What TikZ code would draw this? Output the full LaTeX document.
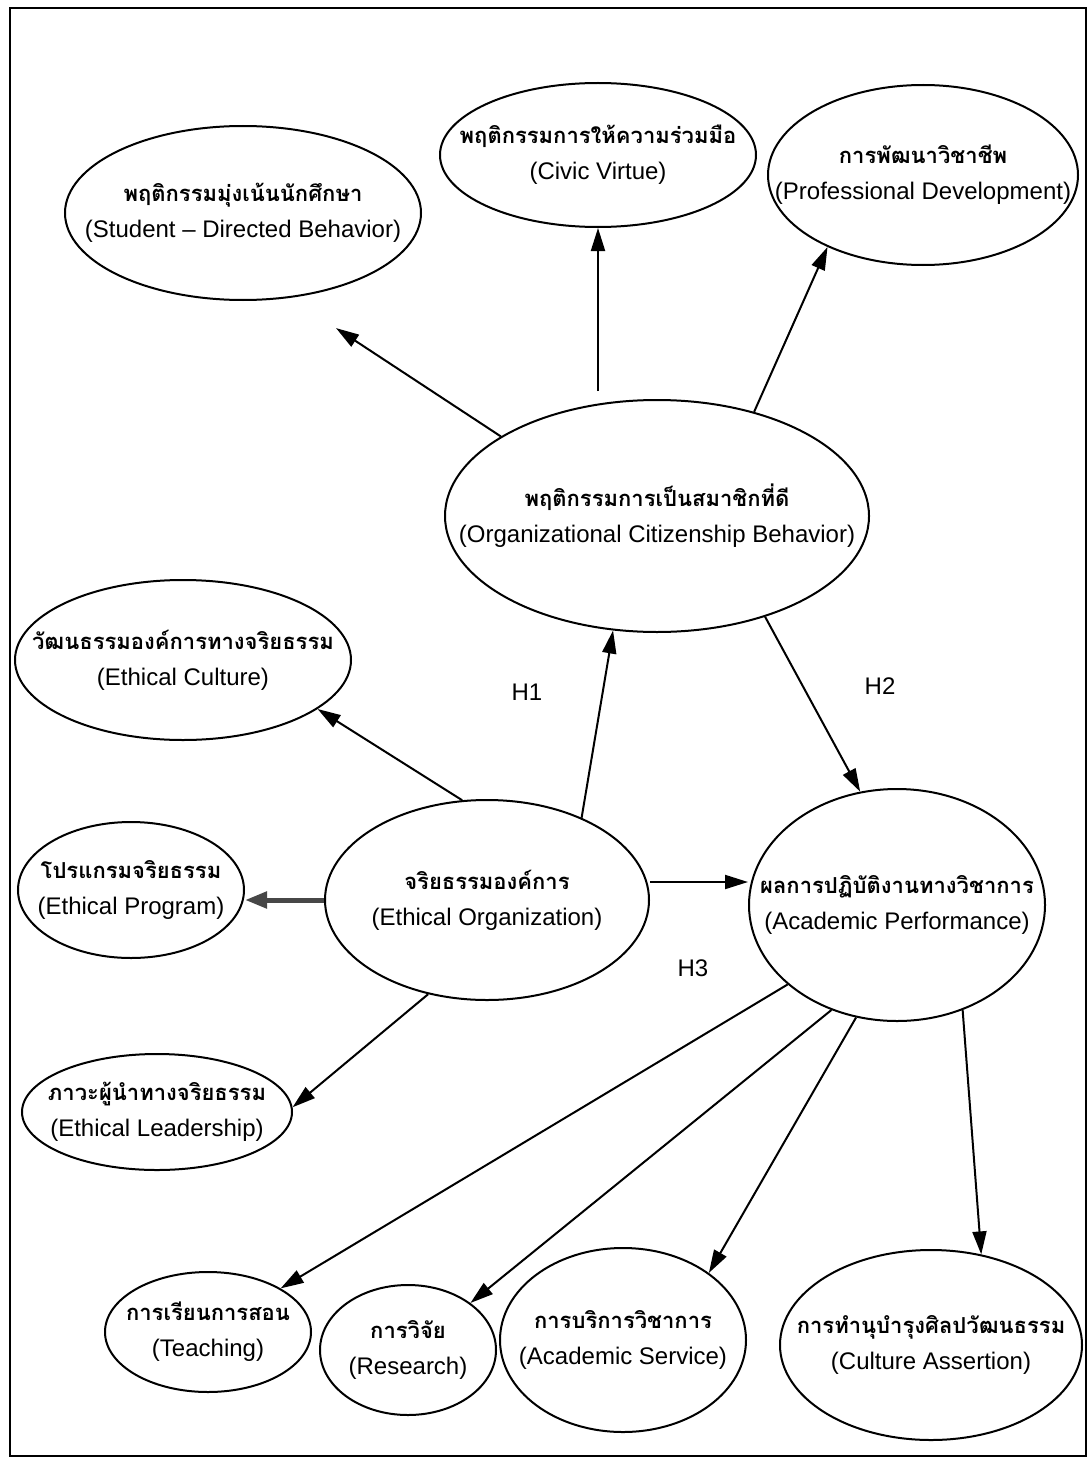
\documentclass[tikz,border=0pt]{standalone}
\usepackage{fontspec}
\setmainfont{Liberation Sans}
\newfontfamily\thaifont[Script=Thai]{Loma}
\usetikzlibrary{shapes.geometric,arrows.meta}

\tikzset{
  concept/.style n args={3}{ellipse, draw, line width=2pt, inner sep=0pt,
    minimum width=#1pt, minimum height=#2pt,
    label={[align=center, inner sep=0pt, font=\fontsize{24}{36}\selectfont]center:#3}},
  arr/.style={line width=2pt, -{Triangle[length=23pt,width=14pt]}},
  heavyarr/.style={line width=5pt, draw=black!72, -{Triangle[length=22pt,width=16pt]}},
  hyp/.style={font=\fontsize{24}{28}\selectfont}
}
\newcommand{\thtxt}[1]{{\fontsize{22}{36}\thaifont\bfseries #1}}

\begin{document}
\begin{tikzpicture}[x=1pt,y=-1pt]
\useasboundingbox (0,0) rectangle (1088,1458);
\draw[line width=1.5pt] (10,8) rectangle (1086,1456);

% second-order factor: organizational citizenship behaviour and its indicators
\node[concept={356}{174}{\thtxt{พฤติกรรมมุ่งเน้นนักศึกษา}\\(Student – Directed Behavior)}] (sdb) at (243,213) {};
\node[concept={316}{144}{\thtxt{พฤติกรรมการให้ความร่วมมือ}\\(Civic Virtue)}] (civ) at (598,155) {};
\node[concept={310}{180}{\thtxt{การพัฒนาวิชาชีพ}\\(Professional Development)}] (pro) at (923,175) {};
\node[concept={424}{232}{\thtxt{พฤติกรรมการเป็นสมาชิกที่ดี}\\(Organizational Citizenship Behavior)}] (ocb) at (657,516) {};

% ethical organization and its indicators
\node[concept={336}{160}{\thtxt{วัฒนธรรมองค์การทางจริยธรรม}\\(Ethical Culture)}] (ecu) at (183,660) {};
\node[concept={226}{136}{\thtxt{โปรแกรมจริยธรรม}\\(Ethical Program)}] (epr) at (131,890) {};
\node[concept={324}{200}{\thtxt{จริยธรรมองค์การ}\\(Ethical Organization)}] (eor) at (487,900) {};
\node[concept={270}{116}{\thtxt{ภาวะผู้นำทางจริยธรรม}\\(Ethical Leadership)}] (eld) at (157,1112) {};

% academic performance and its indicators
\node[concept={296}{232}{\thtxt{ผลการปฏิบัติงานทางวิชาการ}\\(Academic Performance)}] (acp) at (897,905) {};
\node[concept={206}{120}{\thtxt{การเรียนการสอน}\\(Teaching)}] (tea) at (208,1332) {};
\node[concept={176}{130}{\thtxt{การวิจัย}\\(Research)}] (res) at (408,1350) {};
\node[concept={246}{184}{\thtxt{การบริการวิชาการ}\\(Academic Service)}] (ser) at (623,1340) {};
\node[concept={302}{190}{\thtxt{การทำนุบำรุงศิลปวัฒนธรรม}\\(Culture Assertion)}] (cul) at (931,1345) {};

% hypothesis labels
\node[hyp] (h1) at (527,692) {H1};
\node[hyp] (h2) at (880,686) {H2};
\node[hyp] (h3) at (693,968) {H3};

% loadings of OCB
\draw[arr, shorten >=55pt] (ocb.153) -- (sdb.-61);
\draw[arr] ([yshift=8pt]ocb.north -| civ.south) -- (civ.south);
\draw[arr] (ocb.47) -- (pro.-143);

% loadings of ethical organization
\draw[arr] (eor.104) -- (ecu.-20);
\draw[heavyarr] (eor.west) -- (eor.west -| epr.east);
\draw[arr] (eor.-122) -- (eld.2);

% structural paths
\draw[arr] (eor.41) -- (ocb.-111);
\draw[arr] (ocb.-43) -- (acp.108);
\draw[arr] ([yshift=18pt]eor.east) -- ([yshift=18pt]eor.east -| acp.west);

% loadings of academic performance
\draw[arr] (acp.-144) -- (tea.31);
\draw[arr] (acp.-122) -- (res.37);
\draw[arr] (acp.-110) -- (ser.38);
\draw[arr] (acp.-58) -- (cul.61);
\end{tikzpicture}
\end{document}
